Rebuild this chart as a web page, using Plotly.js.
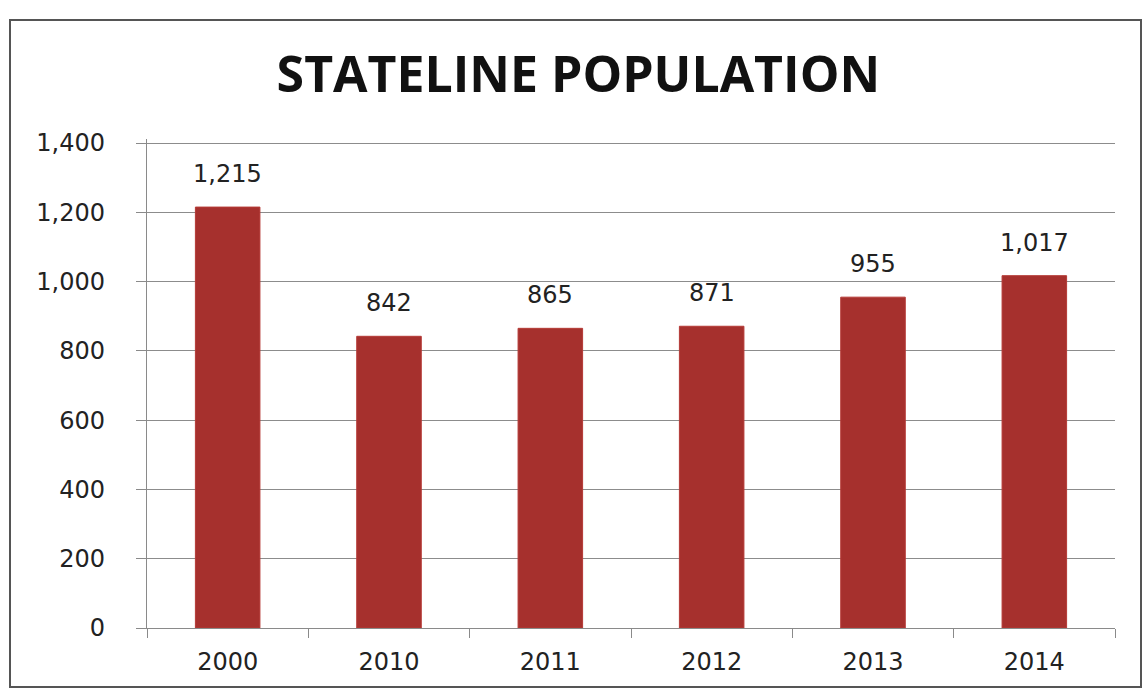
<!DOCTYPE html>
<html>
<head>
<meta charset="utf-8">
<script src="https://cdn.plot.ly/plotly-3.0.1.min.js"></script>
<style>html,body{margin:0;padding:0;background:#fff;}#chart{width:1143px;height:694px;}</style>
</head>
<body>
<div id="chart"></div>
<script>
const years = ["2000", "2010", "2011", "2012", "2013", "2014"];
const population = [1215, 842, 865, 871, 955, 1017];
const yTicks = [0, 200, 400, 600, 800, 1000, 1200, 1400];
const yTickLabels = ["0", "200", "400", "600", "800", "1,000", "1,200", "1,400"];
const chartTitle = "STATELINE POPULATION";

const W = 1143, H = 694;
const M = {l: 147, r: 28, t: 139, b: 66};
const pw = W - M.l - M.r, ph = H - M.t - M.b;
function px(x) { return (x - M.l) / pw; }
function py(y) { return (H - M.b - y) / ph; }
const yMax = 1400 * ph / 485;

const labelFont = {family: "DejaVu Sans, Verdana, sans-serif", size: 24, color: "#222"};

const trace = {
  type: "bar",
  x: years,
  y: population,
  marker: {color: "#a6302d", line: {color: "#b53a36", width: 1}},
  hoverinfo: "none"
};

const annotations = years.map((yr, i) => ({
  x: i, y: population[i], xref: "x", yref: "y",
  text: population[i].toLocaleString("en-US"),
  showarrow: false, yanchor: "bottom", yshift: 17,
  font: labelFont
}));

const layout = {
  width: W, height: H,
  margin: M,
  paper_bgcolor: "#fff",
  plot_bgcolor: "#fff",
  showlegend: false,
  bargap: 0.6,
  title: {
    text: "<b>" + chartTitle + "</b>",
    font: {family: "Open Sans, sans-serif", size: 50, color: "#111"},
    x: 0.506, xanchor: "center",
    y: 1 - 74 / H, yanchor: "middle"
  },
  xaxis: {
    type: "category",
    range: [-0.5, years.length - 0.5],
    showgrid: false,
    showline: true, linecolor: "#8a8a8a", linewidth: 1.2,
    ticks: "outside", tickson: "boundaries", ticklen: 9, tickcolor: "#8a8a8a",
    ticklabelstandoff: 12,
    tickfont: labelFont,
    zeroline: false
  },
  yaxis: {
    range: [0, yMax],
    tickvals: yTicks, ticktext: yTickLabels,
    showgrid: true, gridcolor: "#8c8c8c", gridwidth: 1,
    showline: true, linecolor: "#8a8a8a", linewidth: 1.2,
    ticks: "outside", ticklen: 10, tickcolor: "#8a8a8a",
    ticklabelstandoff: 26,
    tickfont: labelFont,
    zeroline: false
  },
  annotations: annotations,
  shapes: [{
    type: "rect", xref: "paper", yref: "paper",
    x0: px(10), x1: px(1141), y0: py(687), y1: py(20),
    line: {color: "#555", width: 2}, fillcolor: "rgba(0,0,0,0)", layer: "below"
  }]
};

Plotly.newPlot("chart", [trace], layout, {staticPlot: true, displayModeBar: false});
</script>
</body>
</html>
